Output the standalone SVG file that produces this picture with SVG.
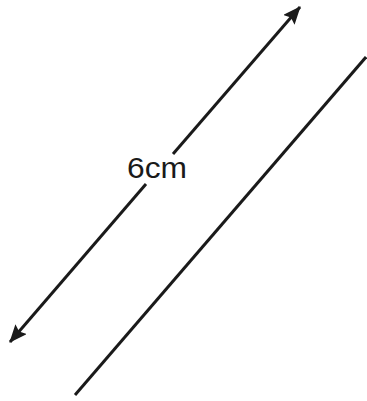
<svg xmlns="http://www.w3.org/2000/svg" width="367" height="401" viewBox="0 0 367 401">
<style>
.ln{stroke:#1a1a1a;stroke-width:3;fill:none}
.lbl{font-family:"Liberation Sans",Arial,sans-serif;font-size:29px;fill:#1a1a1a}
</style>
<defs>
<marker id="ah" markerWidth="18" markerHeight="15" refX="17" refY="7.5" orient="auto" markerUnits="userSpaceOnUse">
<path d="M0,0 L18,7.5 L0,15 L3,7.5 Z" fill="#1a1a1a"/>
</marker>
</defs>
<rect width="367" height="401" fill="#fff"/>
<g id="connectors">
<line class="ln" x1="173" y1="154" x2="300" y2="7" marker-end="url(#ah)"/>
<line class="ln" x1="146" y1="184" x2="10" y2="342" marker-end="url(#ah)"/>
<line class="ln" x1="75" y1="395" x2="366" y2="57"/>
</g>
<g id="label">
<text class="lbl" x="127" y="178" textLength="60" lengthAdjust="spacingAndGlyphs">6cm</text>
</g>
</svg>
